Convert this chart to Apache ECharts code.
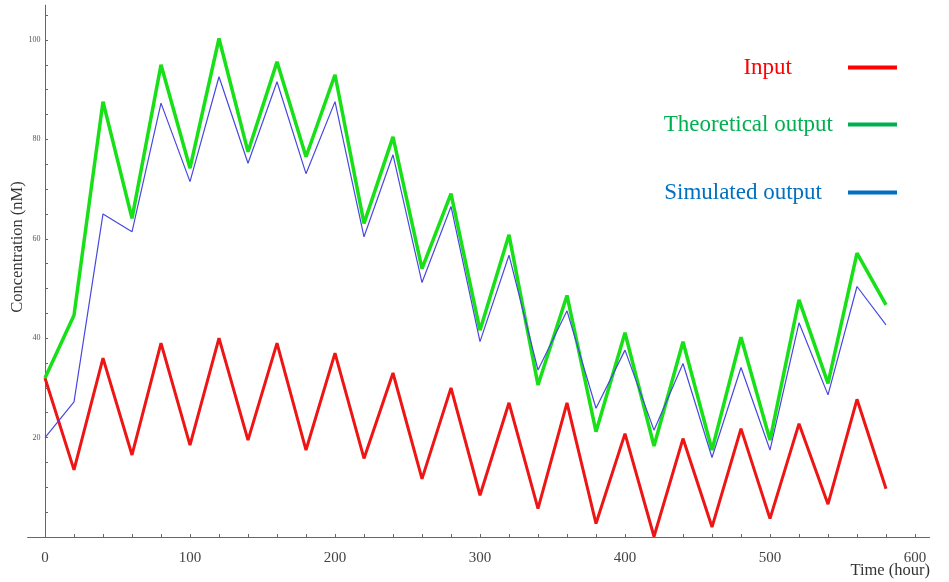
<!DOCTYPE html>
<html>
<head>
<meta charset="UTF-8">
<title>Concentration</title>
<script src="https://cdn.jsdelivr.net/npm/echarts@6/dist/echarts.min.js"></script>
<style>
	html, body{
		margin:0;
		padding:0;
		background:#fff;
	}
	#chart{
		width:949px;
		height:582px;
	}
</style>
</head>
<body>
<div id="chart"></div>
<script>
// time points (hour)
var hours = [0,20,40,60,80,100,120,140,160,180,200,220,240,260,280,300,320,340,360,380,400,420,440,460,480,500,520,540,560,580];
var input = [32,13.5,36,16.5,39,18.5,40,19.5,39,17.5,37,15.8,33,11.7,30,8.4,27,5.7,27,2.7,20.8,0.1,19.8,2,21.8,3.7,22.8,6.6,27.7,9.7];
var theoretical = [32,44.6,87.6,64.1,95,74.2,100.3,77.5,95.6,76.5,93,63.1,80.5,54,69.1,41.6,60.8,30.6,48.6,21.2,41.1,18.3,39.3,17.5,40.2,19.5,47.7,30.9,57.1,46.7];
var simulated = [20,27.2,65,61.4,87.3,71.5,92.6,75.2,91.6,73.1,87.6,60.4,76.9,51.2,66.5,39.3,56.7,33.6,45.5,25.9,37.6,21.5,34.9,16,34.1,17.5,43.1,28.6,50.4,42.7];
var xLabels = [0,100,200,300,400,500,600];
var xTicks = [0,20,40,60,80,100,120,140,160,180,200,220,240,260,280,300,320,340,360,380,400,420,440,460,480,500,520,540,560,580,600];
var yLabels = [20,40,60,80,100];
var yTicks = [0,5,10,15,20,25,30,35,40,45,50,55,60,65,70,75,80,85,90,95,100,105];

function pairs(ys){
	var out=[];
	for(var i=0;i<hours.length;i++){
		out.push([hours[i],ys[i]]);
	}
	return out;
}

var serif = 'Liberation Serif';
var chart = echarts.init(document.getElementById('chart'));
var option = {
	animation:false,
	legend:[
		{data:[{name:'Input',itemStyle:{color:'#ff0000'}}],orient:'vertical',align:'right',right:52,top:56,padding:0,
			icon:'rect',itemWidth:49,itemHeight:4,
			textStyle:{color:'#ff0000',fontFamily:serif,fontSize:23,padding:[0,51,0,0]}},
		{data:[{name:'Theoretical output',itemStyle:{color:'#00b050'}}],orient:'vertical',align:'right',right:52,top:113,padding:0,
			icon:'rect',itemWidth:49,itemHeight:4,
			textStyle:{color:'#00b050',fontFamily:serif,fontSize:23,padding:[0,10,0,0]}},
		{data:[{name:'Simulated output',itemStyle:{color:'#0070c0'}}],orient:'vertical',align:'right',right:52,top:181,padding:0,
			icon:'rect',itemWidth:49,itemHeight:4,
			textStyle:{color:'#0070c0',fontFamily:serif,fontSize:23,padding:[0,21,0,0]}}
	],
	// axis titles
	graphic:[
		{type:'text',right:19,top:562,style:{text:'Time (hour)',font:'16.5px "Liberation Serif"',fill:'#333'}},
		{type:'text',x:18,y:247,rotation:Math.PI/2,
			style:{text:'Concentration (nM)',font:'16.5px "Liberation Serif"',fill:'#333',align:'center',verticalAlign:'middle'}}
	],
	grid:{
		left:27.6,
		right:19.5,
		top:5.2,
		bottom:45,
		outerBoundsMode:'none'
	},
	xAxis:{
		type:'value',
		min:-12,
		max:610,
		splitLine:{show:false},
		axisLine:{onZero:true,lineStyle:{color:'#666',width:1}},
		axisTick:{inside:true,length:3,customValues:xTicks,lineStyle:{color:'#666'}},
		axisLabel:{customValues:xLabels,margin:14,fontFamily:serif,fontSize:15,color:'#444'}
	},
	yAxis:{
		type:'value',
		min:0,
		max:107,
		splitLine:{show:false},
		axisLine:{onZero:true,lineStyle:{color:'#666',width:1}},
		axisTick:{inside:true,length:3,customValues:yTicks,lineStyle:{color:'#666'}},
		axisLabel:{customValues:yLabels,margin:-13,fontFamily:serif,fontSize:8,color:'#555'}
	},
	series:[
		{
			name:'Input',
			type:'line',
			data:pairs(input),
			showSymbol:false,
			color:'#ee1515',
			lineStyle:{width:3,color:'#ee1515'}
		},
		{
			name:'Theoretical output',
			type:'line',
			data:pairs(theoretical),
			showSymbol:false,
			color:'#18e018',
			lineStyle:{width:3.5,color:'#18e018'}
		},
		{
			name:'Simulated output',
			type:'line',
			data:pairs(simulated),
			showSymbol:false,
			color:'#4848e0',
			lineStyle:{width:1.2,color:'#4848e0'}
		}
	]
};
chart.setOption(option);
</script>
</body>
</html>
